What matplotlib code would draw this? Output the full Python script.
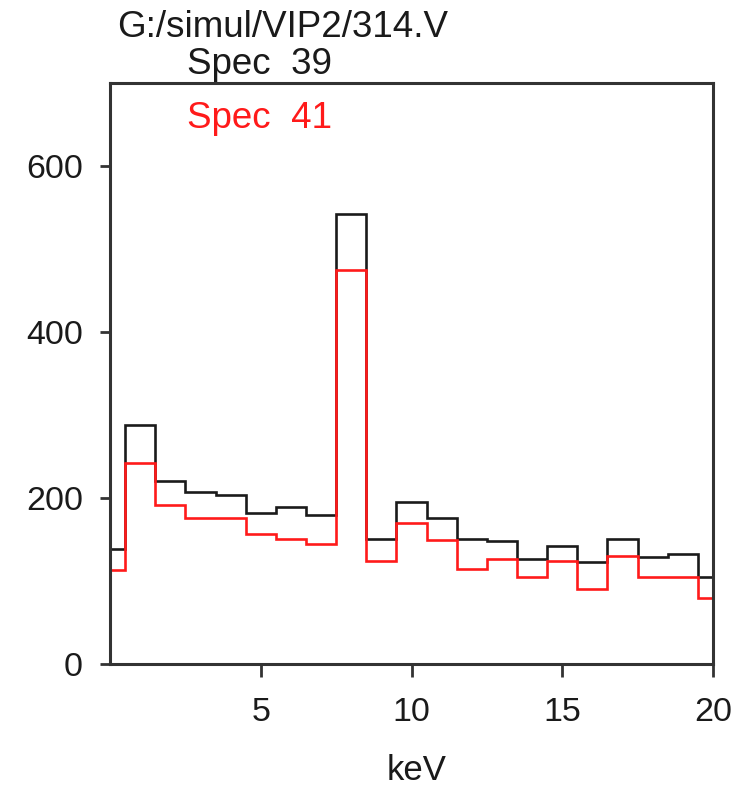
import numpy as np
import matplotlib
matplotlib.use("Agg")
import matplotlib.pyplot as plt

plt.rcParams['font.family'] = ['Liberation Sans', 'DejaVu Sans']

# Spectrum channels (keV), 1 keV wide bins centred on integers, clipped to 0-20
bin_centers = list(range(0, 21))
x_range = (0, 20)

spec39 = [138, 288, 220, 207, 204, 182, 189, 179, 542, 151, 195, 176,
          151, 148, 126, 142, 123, 151, 129, 133, 105]
spec41 = [113, 242, 191, 176, 176, 157, 151, 145, 475, 124, 170, 149,
          115, 127, 105, 124, 90, 130, 105, 105, 80]

x_ticks = [5, 10, 15, 20]
y_ticks = [0, 200, 400, 600]

title_text = "G:/simul/VIP2/314.V"
label39 = "Spec  39"
label41 = "Spec  41"
x_label = "keV"

W, H = 744, 787
fig = plt.figure(figsize=(W / 100, H / 100), dpi=100)
ax = fig.add_axes([110 / W, 1 - 664 / H, (713 - 110) / W, (664 - 83) / H])

centers = np.array(bin_centers, dtype=float)
edges = np.concatenate([[centers[0] - 0.5], centers + 0.5])
edges = np.clip(edges, *x_range)

ax.stairs(spec39, edges, baseline=None, color='#1a1a1a', lw=1.9)
ax.stairs(spec41, edges, baseline=None, color='#ff1a1a', lw=1.9)

ax.set_xlim(*x_range)
ax.set_ylim(0, 700)
ax.set_xticks(x_ticks)
ax.set_yticks(y_ticks)

for sp in ax.spines.values():
    sp.set_color('#333333')
    sp.set_linewidth(2.2)

ax.tick_params(axis='x', length=9, width=2.0, color='#333333', pad=15,
               labelsize=24.5, labelcolor='#1a1a1a')
ax.tick_params(axis='y', length=7.5, width=2.0, color='#333333', pad=12,
               labelsize=24.5, labelcolor='#1a1a1a')

fig.text(117 / W, 1 - 37 / H, title_text, fontsize=26.5, color='#1a1a1a',
         ha='left', va='baseline')
fig.text(187 / W, 1 - 74 / H, label39, fontsize=26.5, color='#1a1a1a',
         ha='left', va='baseline')
fig.text(187 / W, 1 - 128 / H, label41, fontsize=26.5, color='#ff1a1a',
         ha='left', va='baseline')
fig.text(417 / W, 1 - 780 / H, x_label, fontsize=25, color='#1a1a1a',
         ha='center', va='baseline')

fig.savefig("out.png", dpi=100)
